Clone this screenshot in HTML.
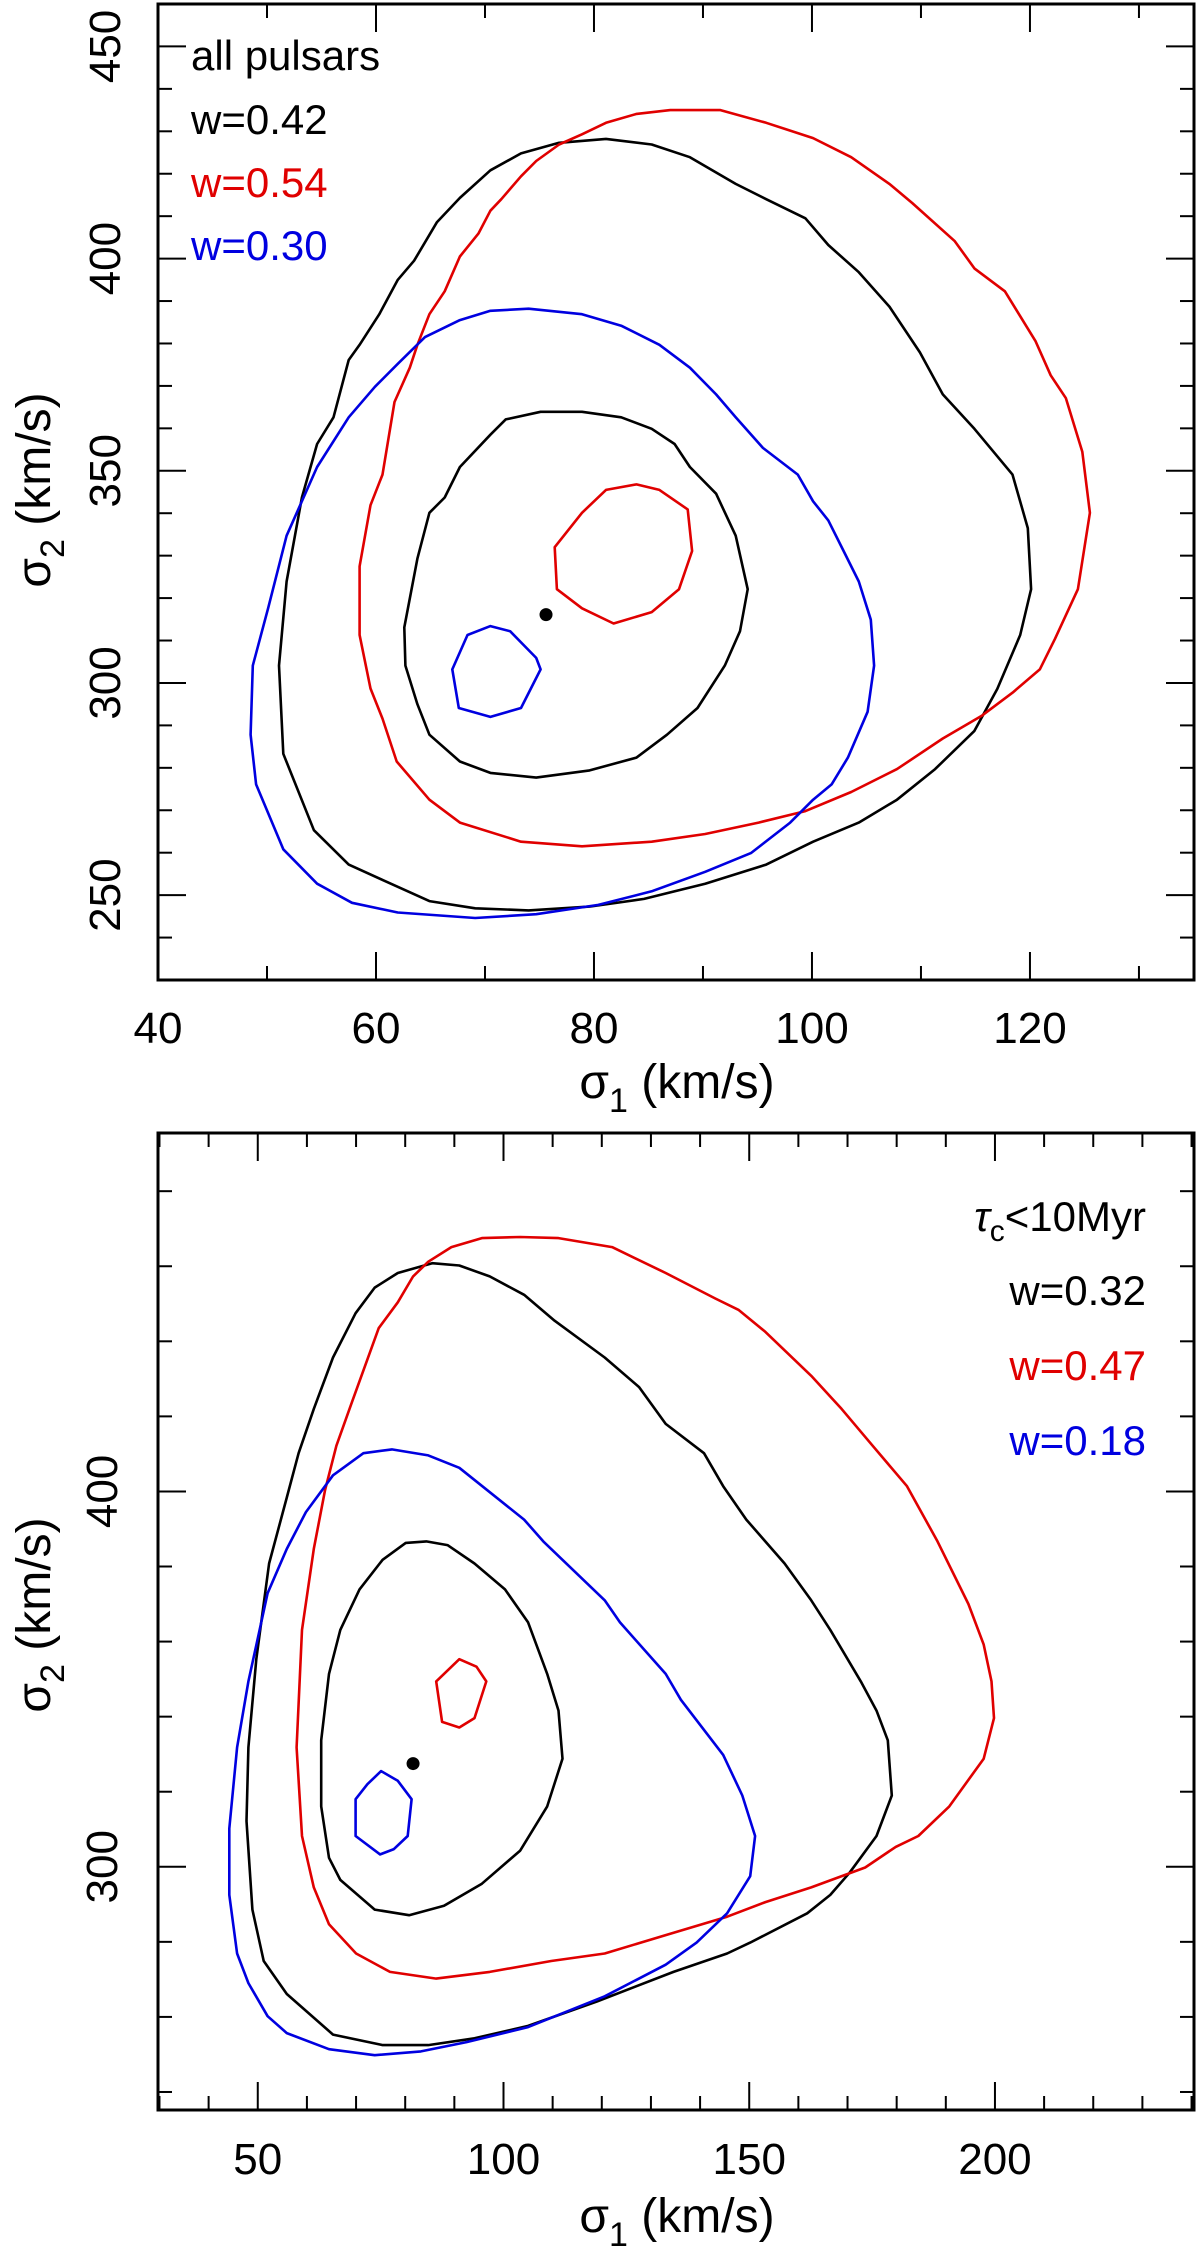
<!DOCTYPE html>
<html><head><meta charset="utf-8">
<style>
html,body{margin:0;padding:0;background:#fff;}
svg{display:block;font-family:"Liberation Sans","DejaVu Sans",sans-serif;}
</style></head>
<body>
<svg id="chart" width="1200" height="2254" viewBox="0 0 1200 2254" xmlns="http://www.w3.org/2000/svg"></svg>
<script>
// ---------- Top panel data (all pulsars) ----------
const topXTicks = [40,60,80,100,120];
const topYTicks = [250,300,350,400,450];
const topLegend = ["all pulsars","w=0.42","w=0.54","w=0.30"];
const topBlackOuter = [[81.1,428.2],[76.8,427.3],[73.3,424.8],[70.5,420.8],[67.7,414.3],[65.6,408.6],[63.5,399.5],[62.0,395.0],[60.3,386.9],[58.5,379.7],[57.5,376.1],[56.1,362.6],[54.6,356.3],[53.2,343.7],[51.8,323.9],[51.1,304.1],[51.5,283.3],[54.3,265.3],[57.5,257.2],[60.6,253.6],[64.9,248.6],[69.1,246.9],[74.0,246.4],[79.6,247.3],[84.6,249.1],[90.2,252.7],[95.8,257.2],[100.1,262.6],[104.3,267.1],[107.8,272.5],[111.3,279.7],[114.9,288.7],[117.0,298.6],[119.1,311.3],[120.1,322.1],[119.8,336.5],[118.4,349.1],[114.9,359.9],[112.0,368.0],[109.9,377.9],[107.1,388.7],[104.3,396.8],[101.5,403.2],[99.4,409.5],[95.8,414.0],[93.0,417.6],[88.8,423.9],[85.3,426.9]];
const topBlackInner = [[75.1,363.9],[71.9,362.1],[70.5,358.5],[67.7,350.9],[66.3,343.7],[64.9,340.1],[63.8,329.3],[62.6,313.1],[62.7,304.1],[63.8,295.0],[64.9,287.8],[67.7,281.5],[70.5,278.8],[74.7,277.7],[79.6,279.4],[83.9,282.4],[86.7,287.8],[89.5,294.1],[92.0,304.1],[93.4,312.2],[94.1,322.1],[93.0,334.7],[91.2,344.6],[88.8,350.9],[87.4,356.3],[85.3,359.9],[82.5,362.6],[78.9,363.9]];
const topRedOuter = [[87.0,435.0],[83.9,434.1],[81.1,432.0],[78.9,429.3],[76.8,426.9],[74.7,423.0],[73.3,419.4],[71.5,414.0],[70.5,411.3],[69.4,405.9],[67.7,400.5],[66.3,392.3],[64.9,386.9],[63.8,379.7],[63.1,374.3],[61.7,366.2],[60.6,349.1],[59.5,341.9],[58.5,327.5],[58.5,311.3],[59.5,298.7],[60.6,291.6],[61.9,281.5],[64.9,272.5],[67.7,267.1],[73.3,262.6],[78.9,261.5],[85.3,262.6],[90.2,264.4],[95.1,267.1],[99.4,269.8],[103.6,274.3],[107.8,279.7],[112.0,286.9],[115.6,292.3],[118.4,297.7],[120.9,303.2],[122.3,310.4],[124.4,322.1],[125.5,340.1],[124.8,354.5],[123.3,367.1],[121.9,372.5],[120.5,380.6],[117.7,392.3],[114.9,397.7],[113.1,404.1],[109.2,413.1],[107.1,417.6],[103.6,423.9],[100.1,428.4],[95.8,432.0],[91.6,435.0]];
const topRedInner = [[83.9,346.8],[81.1,345.5],[78.9,340.1],[76.4,332.0],[76.6,322.1],[78.9,317.6],[81.8,314.0],[85.3,316.7],[87.8,322.1],[89.0,331.1],[88.6,340.9],[86.0,345.5]];
const topBlueOuter = [[74.0,388.2],[70.5,387.7],[67.7,385.5],[64.5,381.5],[62.0,375.2],[59.9,369.8],[57.5,362.6],[54.6,350.9],[51.8,334.7],[50.1,317.6],[48.7,304.1],[48.5,287.8],[49.0,276.1],[51.5,260.8],[54.6,252.7],[57.8,248.2],[62.0,245.9],[69.1,244.6],[74.7,245.5],[80.4,247.7],[85.3,250.9],[90.2,255.5],[94.4,259.9],[98.0,267.1],[100.1,272.5],[101.8,276.1],[103.3,282.4],[105.1,293.2],[105.7,304.1],[105.4,314.9],[104.3,323.9],[102.9,331.1],[101.5,338.3],[100.1,342.8],[98.7,349.1],[95.5,355.4],[93.0,362.6],[91.2,368.0],[88.8,374.3],[86.0,379.7],[82.5,384.2],[78.9,386.9]];
const topBlueInner = [[70.5,313.4],[68.4,311.3],[67.0,303.2],[67.6,294.1],[70.5,292.0],[73.3,294.1],[75.1,303.2],[74.7,305.9],[72.3,312.2]];
const topBest = [75.6,316.1];

// ---------- Bottom panel data (tau_c < 10 Myr) ----------
const botXTicks = [50,100,150,200];
const botYTicks = [300,400];
const botLegend = ["<10Myr","w=0.32","w=0.47","w=0.18"];
const botBlackOuter = [[85.5,460.8],[78.5,458.2],[73.8,454.3],[69.9,447.5],[65.3,435.7],[61.4,422.0],[58.3,410.2],[55.9,398.4],[52.3,380.8],[49.7,355.3],[48.1,331.8],[47.7,312.2],[48.9,288.6],[51.2,274.9],[55.9,266.1],[65.3,255.3],[75.4,252.5],[84.7,252.5],[94.1,254.3],[105.0,257.6],[119.0,264.1],[134.6,272.0],[145.5,276.9],[150.2,279.8],[161.8,287.6],[166.5,292.5],[170.4,298.4],[175.9,308.2],[179.0,319.0],[178.2,333.7],[175.9,341.6],[172.7,349.4],[166.5,363.1],[162.6,371.0],[157.2,380.8],[149.4,392.5],[144.7,401.4],[140.8,410.2],[133.0,418.0],[127.6,427.8],[120.6,435.7],[110.4,445.5],[104.2,452.4],[97.2,457.3],[91.0,460.2]];
const botBlackInner = [[84.3,386.7],[80.1,386.3],[75.4,381.8],[70.7,373.9],[66.8,363.1],[64.5,351.4],[62.9,333.7],[62.9,316.1],[64.5,302.4],[66.8,296.5],[73.8,288.6],[80.8,287.1],[87.9,289.6],[95.6,295.5],[103.4,304.3],[108.9,316.1],[112.0,328.8],[111.2,341.6],[108.9,351.4],[105.0,365.1],[100.3,373.9],[94.1,380.8],[88.6,385.7]];
const botRedOuter = [[103.4,467.8],[95.6,467.5],[89.4,465.1],[84.7,461.2],[81.6,457.3],[78.5,450.4],[74.6,443.5],[69.2,423.9],[66.0,412.2],[63.7,400.4],[61.4,384.7],[59.0,363.1],[57.9,331.8],[59.0,308.2],[61.4,294.5],[64.5,284.7],[70.0,276.9],[76.9,272.0],[86.3,270.2],[97.2,272.0],[109.7,274.9],[120.6,276.9],[133.0,281.8],[145.5,286.7],[153.3,290.6],[162.6,294.5],[173.6,299.8],[179.8,305.3],[184.4,308.2],[190.7,316.1],[197.7,328.8],[199.8,339.6],[199.3,349.4],[197.7,359.2],[194.6,370.0],[188.3,386.7],[182.1,401.4],[175.1,412.2],[168.8,422.0],[162.6,430.8],[153.3,442.5],[147.8,448.4],[143.1,451.4],[133.0,458.2],[122.1,465.1],[111.2,467.5]];
const botRedInner = [[91.0,355.3],[86.3,349.4],[87.5,338.6],[91.0,337.1],[94.1,339.6],[96.5,349.4],[94.5,353.3]];
const botBlueOuter = [[77.3,411.2],[71.5,410.2],[65.3,404.3],[59.8,394.5],[55.9,384.7],[52.0,372.9],[48.1,349.4],[45.8,331.8],[44.2,310.2],[44.2,292.5],[45.8,276.9],[48.1,269.0],[52.0,260.2],[55.9,255.7],[64.5,251.4],[73.8,249.8],[83.2,250.8],[92.5,253.3],[105.0,257.3],[120.6,265.5],[133.0,273.9],[139.3,279.8],[145.5,287.6],[150.2,297.5],[151.2,308.2],[148.6,319.0],[144.7,329.8],[136.1,344.5],[133.0,351.4],[123.7,365.1],[120.6,371.0],[108.1,386.7],[104.2,392.5],[91.0,406.3],[84.7,409.6]];
const botBlueInner = [[75.1,325.5],[72.3,322.0],[69.9,318.0],[69.9,308.2],[74.9,303.3],[77.7,304.7],[80.5,308.2],[81.3,318.0],[78.5,322.9]];
const botBest = [81.6,327.5];

const NS = "http://www.w3.org/2000/svg";
const svg = document.getElementById("chart");
function mk(tag, attrs, parent){
  const e = document.createElementNS(NS, tag);
  for (const k in attrs) e.setAttribute(k, attrs[k]);
  (parent||svg).appendChild(e);
  return e;
}
function scale(d0,d1,r0,r1){ return v => r0 + (v-d0)*(r1-r0)/(d1-d0); }

function drawPanel(cfg){
  const g = mk("g", {});
  
  
  const X = scale(cfg.xd[0], cfg.xd[1], cfg.L, cfg.R);
  const Y = scale(cfg.yd[0], cfg.yd[1], cfg.B, cfg.T);
  // ticks
  for (let v = Math.ceil(cfg.xd[0]/cfg.xMinor)*cfg.xMinor; v <= cfg.xd[1]; v += cfg.xMinor){
    const major = Math.abs(v/cfg.xMajor - Math.round(v/cfg.xMajor)) < 1e-6;
    const len = major ? 28 : 14;
    const x = X(v);
    const t1 = mk("line", {x1:x, x2:x, y1:cfg.B, y2:cfg.B-len, stroke:"#000","stroke-width":2}, g);
    
    
    const t2 = mk("line", {x1:x, x2:x, y1:cfg.T, y2:cfg.T+len, stroke:"#000","stroke-width":2}, g);
    
    
  }
  for (let v = Math.ceil(cfg.yd[0]/cfg.yMinor)*cfg.yMinor; v <= cfg.yd[1]; v += cfg.yMinor){
    const major = Math.abs(v/cfg.yMajor - Math.round(v/cfg.yMajor)) < 1e-6;
    const len = major ? 28 : 14;
    const y = Y(v);
    const t1 = mk("line", {x1:cfg.L, x2:cfg.L+len, y1:y, y2:y, stroke:"#000","stroke-width":2}, g);
    
    
    const t2 = mk("line", {x1:cfg.R, x2:cfg.R-len, y1:y, y2:y, stroke:"#000","stroke-width":2}, g);
    
    
  }
  // tick labels
  cfg.xTicks.forEach(v => {
    const t = mk("text", {x:X(v), y:cfg.xLabY, "text-anchor":"middle","font-size":44}, g);
    
    
    t.textContent = v;
  });
  cfg.yTicks.forEach(v => {
    const t = mk("text", {x:0, y:0, "text-anchor":"middle","font-size":44,
      transform:`translate(${cfg.yLabX},${Y(v)}) rotate(-90)`}, g);
    
    
    t.textContent = v;
  });
  // contours
  const series = [
    [cfg.blackOuter,"#000","black-outer-contour"],[cfg.blackInner,"#000","black-inner-contour"],
    [cfg.redOuter,"#e00000","red-outer-contour"],[cfg.redInner,"#e00000","red-inner-contour"],
    [cfg.blueOuter,"#0000e0","blue-outer-contour"],[cfg.blueInner,"#0000e0","blue-inner-contour"]];
  series.forEach(s => {
    const pts = s[0].map(p => X(p[0]).toFixed(1)+","+Y(p[1]).toFixed(1)).join(" ");
    const pl = mk("polygon", {points:pts, fill:"none", stroke:s[1], "stroke-width":2.6, "stroke-linejoin":"round"}, g);
    
    
  });
  const dot = mk("circle", {cx:X(cfg.best[0]), cy:Y(cfg.best[1]), r:6.5, fill:"#000"}, g);
  
  
  // frame
  const fr = mk("rect", {x:cfg.L, y:cfg.T, width:cfg.R-cfg.L, height:cfg.B-cfg.T, fill:"none", stroke:"#000","stroke-width":3}, g);
  
  
  // axis titles
  const xt = mk("text", {x:677, y:cfg.xTitleY, "text-anchor":"middle","font-size":48}, g);
  
  
  xt.innerHTML = 'σ<tspan font-size="34" dy="14">1</tspan><tspan dy="-14"> (km/s)</tspan>';
  const yt = mk("text", {x:0, y:0, "text-anchor":"middle","font-size":48,
    transform:`translate(${cfg.yTitleX},${cfg.yTitleY}) rotate(-90)`}, g);
  
  
  yt.innerHTML = 'σ<tspan font-size="34" dy="14">2</tspan><tspan dy="-14"> (km/s)</tspan>';
  return g;
}

const gTop = drawPanel({name:"top-panel-all-pulsars", L:158, R:1194, T:4, B:980,
  xd:[40,135.05], yd:[230,460], xMinor:10, xMajor:20, yMinor:10, yMajor:50,
  xTicks:topXTicks, yTicks:topYTicks, xLabY:1043, yLabX:120, xTitleY:1098, yTitleX:50, yTitleY:490,
  blackOuter:topBlackOuter, blackInner:topBlackInner, redOuter:topRedOuter, redInner:topRedInner,
  blueOuter:topBlueOuter, blueInner:topBlueInner, best:topBest});

const gBot = drawPanel({name:"bottom-panel-young-pulsars", L:158, R:1194, T:1133, B:2110,
  xd:[29.7,240.5], yd:[235.2,495.5], xMinor:10, xMajor:50, yMinor:20, yMajor:100,
  xTicks:botXTicks, yTicks:botYTicks, xLabY:2174, yLabX:117, xTitleY:2232, yTitleX:50, yTitleY:1615,
  blackOuter:botBlackOuter, blackInner:botBlackInner, redOuter:botRedOuter, redInner:botRedInner,
  blueOuter:botBlueOuter, blueInner:botBlueInner, best:botBest});

// legends
const legColors = ["#000","#000","#e00000","#0000e0"];
const legNames = ["legend-title","legend-black","legend-red","legend-blue"];
const topLegY = [70,134,197,260];
topLegend.forEach((s,i) => {
  const t = mk("text", {x:191, y:topLegY[i], "font-size":42, fill:legColors[i]}, gTop);
  
  
  t.textContent = s;
});
const botLegY = [1231,1305,1380,1455];
botLegend.forEach((s,i) => {
  const t = mk("text", {x:1146, y:botLegY[i], "font-size":42, fill:legColors[i], "text-anchor":"end"}, gBot);
  
  
  if (i === 0) t.innerHTML = '<tspan font-style="italic">τ</tspan><tspan font-size="30" dy="10">c</tspan><tspan dy="-10">' + s + '</tspan>';
  else t.textContent = s;
});
</script>
</body></html>
